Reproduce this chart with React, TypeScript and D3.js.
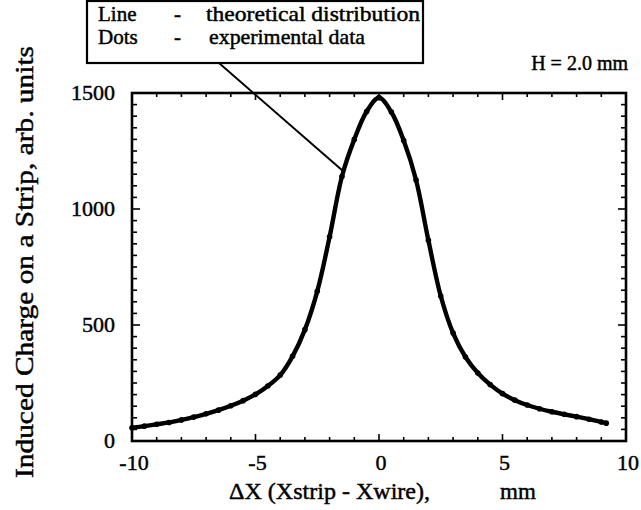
import React from "react";
import * as d3 from "d3";

// Data
const deltaX = [
  -10, -9.5, -9, -8.5, -8, -7.5, -7, -6.5, -6, -5.5, -5, -4.5, -4, -3.5, -3, -2.5, -2, -1.5, -1, -0.5,
  0, 0.5, 1, 1.5, 2, 2.5, 3, 3.5, 4, 4.5, 5, 5.5, 6, 6.5, 7, 7.5, 8, 8.5, 9, 9.2,
];
const inducedCharge = [
  57, 64, 72, 80, 91, 103, 117, 133, 152, 174, 201, 237, 284, 365, 480, 645, 880, 1140, 1300, 1420,
  1480, 1418, 1295, 1125, 865, 625, 465, 362, 293, 243, 204, 176, 155, 139, 126, 115, 105, 94, 82, 77,
];
const xTickValues = [-10, -5, 0, 5, 10];
const xMinorTicks = d3.range(-10, 10.01, 1);
const yTickValues = [0, 500, 1000, 1500];
const yMinorTicks = d3.range(0, 1500.01, 50);
const legendRows = [
  { key: "Line", text: "theoretical distribution" },
  { key: "Dots", text: "experimental data" },
];

const W = 641;
const H = 510;
const FONT = "'Liberation Serif', 'Times New Roman', serif";

export default function App() {
  const x = d3.scaleLinear().domain([-10, 10]).range([132, 626]);
  const y = d3.scaleLinear().domain([0, 1500]).range([441, 93]);
  const pts = deltaX.map((d, i) => [d, inducedCharge[i]] as [number, number]);
  const line = d3
    .line<[number, number]>()
    .x((d) => x(d[0]))
    .y((d) => y(d[1]))
    .curve(d3.curveCatmullRom.alpha(0.5));

  const [x0, x1] = x.range();
  const [yb, yt] = y.range();
  const ts = { stroke: "#000", strokeWidth: 0.45 };

  return (
    <svg
      width={W}
      height={H}
      style={{ position: "absolute", left: 0, top: 0, background: "#fff" }}
      fontFamily={FONT}
    >
      <rect x={0} y={0} width={W} height={H} fill="#fff" />

      {/* minor/major ticks */}
      {xMinorTicks.map((t) => {
        const major = xTickValues.includes(Math.round(t));
        const L = major ? 7 : 4;
        return (
          <g key={"xt" + t} stroke="#000" strokeWidth={1.6}>
            <line x1={x(t)} x2={x(t)} y1={yb} y2={yb - L} />
            <line x1={x(t)} x2={x(t)} y1={yt} y2={yt + L} />
          </g>
        );
      })}
      {yMinorTicks.map((t) => {
        const major = yTickValues.includes(Math.round(t));
        const L = major ? 8 : 5;
        return (
          <g key={"yt" + t} stroke="#000" strokeWidth={1.6}>
            <line x1={x0} x2={x0 + L} y1={y(t)} y2={y(t)} />
            <line x1={x1} x2={x1 - L} y1={y(t)} y2={y(t)} />
          </g>
        );
      })}

      {/* frame */}
      <rect
        x={x0}
        y={yt}
        width={x1 - x0}
        height={yb - yt}
        fill="none"
        stroke="#000"
        strokeWidth={2.6}
      />

      {/* tick labels */}
      {yTickValues.map((t) => (
        <text key={"yl" + t} x={115} y={y(t) + 7} fontSize={22} textAnchor="end" fill="#000" {...ts}>
          {t}
        </text>
      ))}
      {xTickValues.map((t) => (
        <text key={"xl" + t} x={x(t) + 2} y={470} fontSize={22} textAnchor="middle" fill="#000" {...ts}>
          {t}
        </text>
      ))}

      {/* curve and dots */}
      <path d={line(pts) || ""} fill="none" stroke="#000" strokeWidth={4.4} strokeLinecap="round" />
      {pts.map((p, i) => (
        <circle key={"d" + i} cx={x(p[0])} cy={y(p[1])} r={2.8} fill="#000" />
      ))}

      {/* axis titles */}
      <text x={229} y={499} fontSize={23} fill="#000" textLength={201} lengthAdjust="spacingAndGlyphs" {...ts}>
        ΔX (Xstrip - Xwire),
      </text>
      <text x={500} y={499} fontSize={23} fill="#000" {...ts}>
        mm
      </text>
      <text
        transform={`translate(33, 262) rotate(-90)`}
        fontSize={26}
        textAnchor="middle"
        fill="#000"
        textLength={432}
        lengthAdjust="spacingAndGlyphs"
        {...ts}
      >
        Induced Charge on a Strip, arb. units
      </text>

      {/* H label */}
      <text x={628} y={70} fontSize={20} textAnchor="end" fill="#000" {...ts}>
        H = 2.0 mm
      </text>

      {/* legend box with pointer */}
      <line x1={219} y1={63} x2={343} y2={171} stroke="#000" strokeWidth={2} />
      <rect x={87} y={1} width={336} height={62} fill="#fff" stroke="#000" strokeWidth={2.2} />
      {legendRows.map((r, i) => (
        <g key={r.key} fontSize={21} fill="#000" {...ts}>
          <text x={98} y={21 + i * 23}>{r.key}</text>
          <text x={174} y={21 + i * 23}>-</text>
          <text
            x={i === 0 ? 206 : 209}
            y={21 + i * 23}
            textLength={i === 0 ? 214 : 156}
            lengthAdjust="spacingAndGlyphs"
          >
            {r.text}
          </text>
        </g>
      ))}
    </svg>
  );
}
